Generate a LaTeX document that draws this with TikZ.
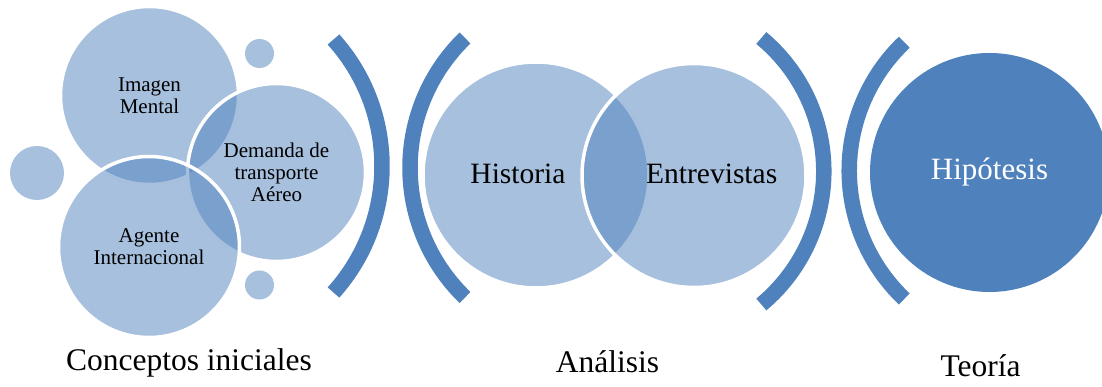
\documentclass[tikz,border=0pt]{standalone}
\usepackage{fontspec}
\setmainfont{Liberation Serif}
\definecolor{venn}{HTML}{4F81BD}
\tikzset{
 bubble/.style={circle,fill=venn,fill opacity=.5,text opacity=1,draw=white,line width=3.5pt,inner sep=0},
 dot/.style={circle,fill=venn,fill opacity=.5,inner sep=0},
 goal/.style={circle,fill=venn,text=white,inner sep=0,font=\fontsize{31}{36}\selectfont},
 bracket/.style={draw=venn,line width=15.5pt},
 concept/.style={align=center,font=\fontsize{21}{22}\selectfont},
 keyword/.style={anchor=base,font=\fontsize{29.5}{34}\selectfont},
 phase/.style={anchor=base,font=\fontsize{31.5}{36}\selectfont}
}

\begin{document}
\begin{tikzpicture}[x=1pt,y=1pt]
\path[use as bounding box] (0,0) rectangle (1102,387);
% first group
\node[dot,minimum size=29pt] (dotA) at (259.5,333.5) {};
\node[dot,minimum size=54pt] (dotB) at (37,214) {};
\node[dot,minimum size=29pt] (dotC) at (259.5,102) {};
\node[bubble,concept,minimum size=178pt] (imagen) at (149.5,291.5) {Imagen\\Mental};
\node[bubble,concept,minimum size=178pt] (demanda) at (276.5,214.5) {Demanda de\\transporte\\Aéreo};
\node[bubble,concept,minimum size=181pt] (agente) at (149,140) {Agente\\Internacional};
% brackets
\coordinate (arcA) at (192.8,221);
\coordinate (arcB) at (590.5,219.25);
\coordinate (arcC) at (650.5,215.75);
\coordinate (arcD) at (1026.4,216.4);
\draw[bracket] ([shift={(-41.96:189.2pt)}]arcA) arc[start angle=-41.96,end angle=41.96,radius=189.2pt];
\draw[bracket] ([shift={(134.04:180.5pt)}]arcB) arc[start angle=134.04,end angle=225.96,radius=180.5pt];
\draw[bracket] ([shift={(-50.25:173.3pt)}]arcC) arc[start angle=-50.25,end angle=50.25,radius=173.3pt];
\draw[bracket] ([shift={(133.57:177.2pt)}]arcD) arc[start angle=133.57,end angle=226.43,radius=177.2pt];
% second group
\node[bubble,minimum size=226pt] (historia) at (536,212) {};
\node[bubble,minimum size=224pt] (entrevistas) at (694,211.5) {};
\node[keyword] (historiaText) at (518,203) {Historia};
\node[keyword] (entrevistasText) at (711.7,203) {Entrevistas};
% result
\node[goal,minimum size=239pt] (hipotesis) at (989.5,214.5) {Hipótesis};
% captions
\node[phase] (conceptos) at (189,16) {Conceptos iniciales};
\node[phase] (analisis) at (607.5,14) {Análisis};
\node[phase] (teoria) at (980.5,10) {Teoría};
\end{tikzpicture}
\end{document}
